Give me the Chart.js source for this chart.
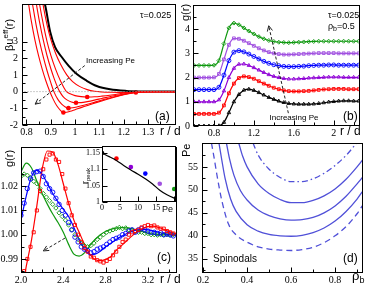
<!DOCTYPE html>
<html><head><meta charset="utf-8">
<script src="https://cdn.jsdelivr.net/npm/chart.js@4.4.1/dist/chart.umd.min.js"></script>
<style>
html,body{margin:0;padding:0;background:#fff;overflow:hidden}
#wrap{position:relative;width:365px;height:285px;background:#fff}
#wrap canvas{position:absolute}
</style></head><body>
<div id="wrap">
<canvas id="ca" width="184" height="142" style="left:0;top:0"></canvas>
<canvas id="cb" width="187" height="142" style="left:178px;top:0"></canvas>
<canvas id="cc" width="184" height="143" style="left:0;top:142px"></canvas>
<canvas id="cd" width="187" height="143" style="left:178px;top:142px"></canvas>
<canvas id="ci" width="110" height="72" style="left:70px;top:142px"></canvas>
</div>
<script>
// ---------------- DATA ----------------
// (a) effective potential beta*u_eff(r), increasing Pe from aPe0 (black) to aPe5
const aPe0R = [0.86,0.877,0.898,0.918,0.946,0.973,1.007,1.048,1.089,1.144,1.212,1.267,1.32,1.42];
const aPe0U = [6.0,5.19,3.58,2.67,2.06,1.56,1.05,0.65,0.34,0.14,0.04,0.01,0,0];
const aPe1R = [0.86,0.868,0.885,0.9,0.92,0.94,0.966,0.99,1.02,1.05,1.08,1.11,1.15,1.2,1.25,1.3,1.35,1.42];
const aPe1U = [6.0,5.25,4.0,3.15,2.3,1.65,1.0,0.6,0.3,0.12,0.02,-0.02,-0.04,-0.05,-0.05,-0.02,0,0];
const aPe2R = [0.846,0.854,0.87,0.885,0.9,0.92,0.94,0.955,0.965,0.98,1.0,1.025,1.05,1.08,1.11,1.15,1.2,1.25,1.3,1.42];
const aPe2U = [6.0,5.25,4.0,3.0,2.2,1.35,0.65,0.22,0.0,-0.13,-0.24,-0.3,-0.32,-0.31,-0.27,-0.2,-0.1,-0.03,0,0];
const aPe3R = [0.832,0.841,0.855,0.87,0.885,0.9,0.915,0.93,0.937,0.95,0.965,0.985,1.004,1.025,1.05,1.08,1.11,1.15,1.2,1.25,1.3,1.42];
const aPe3U = [6.0,5.25,4.1,3.05,2.15,1.4,0.75,0.2,0.0,-0.28,-0.48,-0.62,-0.67,-0.66,-0.6,-0.51,-0.41,-0.28,-0.14,-0.04,0,0];
const aPe4R = [0.815,0.825,0.84,0.855,0.87,0.885,0.9,0.913,0.93,0.945,0.96,0.973,0.99,1.01,1.04,1.07,1.1,1.15,1.2,1.25,1.3,1.42];
const aPe4U = [6.0,5.25,4.0,2.95,2.05,1.25,0.55,0.0,-0.48,-0.75,-0.92,-0.99,-0.97,-0.91,-0.8,-0.68,-0.55,-0.35,-0.17,-0.05,0,0];
const aPe5R = [0.80,0.809,0.82,0.835,0.85,0.865,0.88,0.895,0.91,0.925,0.94,0.952,0.965,0.98,1.0,1.03,1.06,1.1,1.15,1.2,1.25,1.3,1.42];
const aPe5U = [6.0,5.25,4.25,3.1,2.15,1.35,0.65,0.05,-0.45,-0.85,-1.12,-1.25,-1.24,-1.18,-1.08,-0.93,-0.79,-0.6,-0.38,-0.18,-0.05,0,0];
const aMinR = [1.25,1.05,1.004,0.973,0.952];
const aMinU = [-0.05,-0.32,-0.67,-0.99,-1.25];
const aZeroR = [0.78,1.42];
const aZeroU = [0,0];
const aArrowR = [1.04,0.836];
const aArrowU = [1.56,-0.75];

// (b) g(r) at rho_b=0.5, Pe = 0,4,8,12,16,20 (shifted by bOffsets)
const bR = [0.60,0.65,0.70,0.75,0.80,0.85,0.90,0.95,1.00,1.05,1.10,1.15,1.20,1.25,1.30,1.35,1.40,1.45,1.50,1.55,1.60,1.65,1.70,1.75,1.80,1.85,1.90,1.95,2.00,2.05,2.10,2.15,2.20,2.25];
const bG0  = [0,0,0,0,0,0.01,0.15,0.55,1.0,1.3,1.48,1.52,1.47,1.38,1.28,1.18,1.10,1.03,0.97,0.93,0.91,0.90,0.90,0.90,0.91,0.93,0.96,0.99,1.01,1.03,1.04,1.04,1.03,1.03];
const bG4  = [0,0,0,0,0,0.05,0.35,0.85,1.25,1.48,1.55,1.52,1.45,1.35,1.25,1.16,1.08,1.02,0.97,0.94,0.93,0.93,0.94,0.95,0.97,0.99,1.01,1.02,1.03,1.03,1.03,1.02,1.02,1.02];
const bG8  = [0,0,0,0,0,0.08,0.45,1.0,1.38,1.55,1.56,1.5,1.41,1.31,1.21,1.12,1.05,1.0,0.96,0.94,0.94,0.95,0.96,0.98,0.99,1.0,1.01,1.02,1.02,1.02,1.01,1.01,1.01,1.01];
const bG12 = [0,0,0,0,0,0.1,0.6,1.2,1.55,1.61,1.56,1.47,1.37,1.27,1.17,1.09,1.03,0.99,0.96,0.95,0.95,0.96,0.97,0.99,1.0,1.01,1.01,1.02,1.02,1.01,1.01,1.01,1.01,1.01];
const bG16 = [0,0,0,0,0.01,0.15,0.75,1.35,1.62,1.6,1.52,1.42,1.31,1.21,1.12,1.05,1.0,0.97,0.95,0.95,0.96,0.97,0.98,0.99,1.0,1.01,1.01,1.01,1.01,1.0,1.0,1.0,1.0,1.0];
const bG20 = [0,0,0,0,0.01,0.2,0.9,1.55,1.75,1.68,1.55,1.42,1.3,1.19,1.1,1.03,0.99,0.96,0.95,0.94,0.95,0.96,0.97,0.98,0.99,1.0,1.0,1.0,1.0,1.0,1.0,1.0,1.0,1.0];
const bOffsets = [0,0.5,1,1.5,2,2.5];
const bArrowR = [1.546,1.349];
const bArrowG = [0.53,4.14];

// (c) long-range g(r): theory lines and simulation points
const cR = [2.00,2.05,2.10,2.15,2.20,2.25,2.30,2.35,2.40,2.45,2.50,2.55,2.60,2.65,2.70,2.75,2.80,2.85,2.90,2.95,3.00,3.05,3.10,3.15,3.20,3.25,3.30,3.35,3.40,3.45,3.47];
const cRedG   = [0.975,0.987,0.998,1.012,1.027,1.0345,1.034,1.029,1.021,1.013,1.006,1.001,0.996,0.992,0.9898,0.9893,0.9898,0.991,0.9935,0.9955,0.9975,0.9995,1.0012,1.0025,1.0033,1.0035,1.003,1.0022,1.0013,1.0006,1.0005];
const cBlueG  = [1.006,1.016,1.024,1.0265,1.025,1.021,1.017,1.0135,1.0105,1.0075,1.003,0.998,0.994,0.9918,0.992,0.9932,0.995,0.9965,0.998,0.9993,1.0005,1.0015,1.002,1.0022,1.002,1.0015,1.001,1.0005,1.0,0.9998,0.9998];
const cGreenG = [1.026,1.0295,1.0275,1.022,1.017,1.0125,1.0085,1.005,1.001,0.996,0.992,0.9912,0.9925,0.9955,0.998,1.0,1.0013,1.0022,1.0027,1.0029,1.0028,1.0024,1.0018,1.0012,1.0006,1.0002,1.0,0.9999,0.9999,0.9999,0.9999];
const cSimR = [2.00,2.03,2.06,2.09,2.12,2.15,2.18,2.21,2.24,2.27,2.30,2.33,2.36,2.39,2.42,2.45,2.48,2.51,2.54,2.57,2.60,2.63,2.66,2.69,2.72,2.75,2.78,2.81,2.84,2.87,2.90,2.93,2.96,2.99,3.02,3.05,3.08,3.11,3.14,3.17,3.20,3.23,3.26,3.29,3.32,3.35,3.38,3.41,3.44];
const cRedSim   = [0.981,0.985,0.990,0.995,1.001,1.010,1.018,1.027,1.031,1.033,1.0335,1.031,1.030,1.025,1.019,1.013,1.008,1.004,1.000,0.997,0.9945,0.993,0.991,0.9905,0.9895,0.989,0.9885,0.9892,0.990,0.9915,0.993,0.995,0.997,0.998,1.0,1.001,1.0015,1.002,1.003,1.0035,1.004,1.0035,1.0038,1.003,1.0025,1.0025,1.0015,1.001,1.0005];
const cBlueSim  = [1.008,1.013,1.019,1.023,1.0255,1.026,1.0262,1.024,1.021,1.019,1.0175,1.015,1.0125,1.010,1.008,1.005,1.002,0.999,0.997,0.995,0.994,0.9935,0.9925,0.993,0.994,0.9945,0.995,0.996,0.997,0.998,0.9985,0.999,1.0,1.0005,1.0015,1.002,1.001,1.002,1.0025,1.002,1.0015,1.001,1.001,1.0005,1.0008,1.0,1.0003,1.0,0.9995];
const cGreenSim = [1.024,1.025,1.0245,1.0235,1.022,1.021,1.019,1.017,1.0155,1.014,1.0125,1.011,1.009,1.0075,1.006,1.004,1.002,1.0,0.998,0.9965,0.9955,0.995,0.9955,0.9965,0.998,0.999,1.0,1.001,1.0015,1.002,1.0025,1.003,1.0025,1.0028,1.002,1.002,1.0015,1.001,1.001,1.0005,1.0005,1.0,1.0,0.9998,1.0,0.9998,1.0,0.9997,1.0];
const cArrowR = [2.416,2.211];
const cArrowG = [0.9986,0.9933];

// inset: r_peak vs Pe
const inPe = [0,4,8,12,16,20];
const inRpeak = [1.15,1.133,1.107,1.087,1.056,1.04];
const inLinePe = [0,2,4,6,8,10,12,14,16,18,20,20.5];
const inLineR = [1.15,1.139,1.127,1.112,1.098,1.085,1.071,1.055,1.036,1.022,1.012,1.01];

// (d) spinodals Pe(rho_b)
const dDashRho = [0.238,0.25,0.262,0.285,0.315,0.35,0.4,0.45,0.5,0.55,0.6,0.65,0.7,0.75,0.8,0.85,0.9,0.93];
const dDashPe  = [60.2,57,53.5,47.7,42.6,40.2,38.6,37.6,37.1,36.9,36.8,37.0,37.5,38.5,40.0,42.0,44.8,47.0];
const dS1Rho = [0.272,0.285,0.3,0.325,0.35,0.4,0.45,0.5,0.55,0.6,0.65,0.7,0.75,0.8,0.85,0.9,0.93];
const dS1Pe  = [60.2,56.5,52.5,48,45.3,42.4,41.0,40.3,40.0,39.9,40.1,40.7,41.7,43.2,45.3,48.0,50.0];
const dS2Rho = [0.306,0.32,0.34,0.37,0.4,0.45,0.5,0.55,0.6,0.65,0.7,0.75,0.8,0.85,0.9,0.93];
const dS2Pe  = [60.2,56.8,53.2,49.8,47.8,45.6,44.4,43.7,43.4,43.5,44.0,45.0,46.5,48.6,51.3,53.0];
const dS3Rho = [0.362,0.38,0.4,0.45,0.5,0.55,0.6,0.65,0.7,0.75,0.8,0.85,0.9,0.93];
const dS3Pe  = [60.2,57.3,55.0,51.3,49.2,47.9,47.2,47.2,47.7,48.7,50.2,52.3,55.0,56.8];
const dDDRho = [0.427,0.45,0.5,0.55,0.6,0.65,0.7,0.75,0.8,0.85,0.9];
const dDDPe  = [60.2,57.6,54.5,52.7,51.8,51.8,52.4,53.6,55.3,57.5,60.3];

// ---------------- HELPERS ----------------
const SANS = "'Liberation Sans', Arial, Helvetica, sans-serif";
const SERIF = "'Liberation Serif', 'Times New Roman', serif";
const F = s => s + 'px ' + SANS;
const pts = (xs, ys, d) => xs.map((x, i) => ({x: x, y: ys[i] + (d || 0)}));

function axis(min, max, major, fmt, size, pad, fs) {
  return {
    type: 'linear', min: min, max: max,
    grid: {display: false, drawTicks: false},
    border: {display: false},
    afterBuildTicks: s => { s.ticks = major.map(v => ({value: v})); },
    afterFit: s => {
      if (s.isHorizontal()) s.height = size; else s.width = size;
      s.paddingTop = 0; s.paddingBottom = 0; s.paddingLeft = 0; s.paddingRight = 0;
    },
    ticks: {callback: v => fmt(v), padding: pad, font: {family: SERIF, size: fs || 10}, color: '#000',
            autoSkip: false, maxRotation: 0, minRotation: 0}
  };
}
const fmt1 = v => String(Math.round(v * 100) / 100);

const annot = {
  id: 'annot',
  beforeDatasetsDraw(chart, args, o) {
    if (!o.fill) return;
    const a = chart.chartArea, ctx = chart.ctx;
    ctx.save(); ctx.fillStyle = '#fff';
    ctx.fillRect(a.left, a.top, a.right - a.left, a.bottom - a.top); ctx.restore();
  },
  afterDraw(chart, args, o) {
    const ctx = chart.ctx, a = chart.chartArea, xs = chart.scales.x, ys = chart.scales.y;
    const L = Math.round(a.left) + 0.5, T = Math.round(a.top) + 0.5, R = Math.round(a.right) - 0.5, B = Math.round(a.bottom) - 0.5;
    ctx.save();
    ctx.strokeStyle = '#000'; ctx.lineWidth = 1; ctx.setLineDash([]);
    ctx.strokeRect(L, T, R - L, B - T);
    ctx.beginPath();
    const tx = (vals, len) => (vals || []).forEach(v => { const p = Math.round(xs.getPixelForValue(v)) + 0.5; ctx.moveTo(p, B); ctx.lineTo(p, B - len); });
    const ty = (vals, len) => (vals || []).forEach(v => { const p = Math.round(ys.getPixelForValue(v)) + 0.5; ctx.moveTo(L, p); ctx.lineTo(L + len, p); });
    tx(o.xMaj, 5); tx(o.xMin, 3); ty(o.yMaj, 5); ty(o.yMin, 3);
    ctx.stroke();
    (o.arrows || []).forEach(ar => {
      const x0 = xs.getPixelForValue(ar.x[0]), y0 = ys.getPixelForValue(ar.y[0]);
      const x1 = xs.getPixelForValue(ar.x[1]), y1 = ys.getPixelForValue(ar.y[1]);
      ctx.strokeStyle = '#222'; ctx.lineWidth = 1;
      ctx.setLineDash([3, 2]);
      ctx.beginPath(); ctx.moveTo(x0, y0); ctx.lineTo(x1, y1); ctx.stroke();
      ctx.setLineDash([]);
      const ang = Math.atan2(y1 - y0, x1 - x0), h = 6;
      ctx.beginPath();
      ctx.moveTo(x1 - h * Math.cos(ang - 0.45), y1 - h * Math.sin(ang - 0.45));
      ctx.lineTo(x1, y1);
      ctx.lineTo(x1 - h * Math.cos(ang + 0.45), y1 - h * Math.sin(ang + 0.45));
      ctx.stroke();
    });
    const off = o.off || [0, 0];
    (o.texts || []).forEach(it => {
      ctx.save();
      ctx.translate(it.x - off[0], it.y - off[1]);
      if (it.rot) ctx.rotate(-Math.PI / 2);
      ctx.fillStyle = it.c || '#000';
      ctx.textBaseline = 'alphabetic'; ctx.textAlign = 'left';
      const parts = it.p || [[it.t, it.f, 0]];
      let w = 0;
      parts.forEach(p => { ctx.font = p[1]; w += ctx.measureText(p[0]).width; });
      let cx = it.al === 'center' ? -w / 2 : (it.al === 'right' ? -w : 0);
      parts.forEach(p => { ctx.font = p[1]; ctx.fillText(p[0], cx, p[2] || 0); cx += ctx.measureText(p[0]).width; });
      ctx.restore();
    });
    ctx.restore();
  }
};

function makeChart(id, o) {
  return new Chart(document.getElementById(id), {
    type: 'scatter',
    data: {datasets: o.datasets},
    options: {
      responsive: false, animation: false, events: [],
      layout: {padding: {left: 0, top: o.padTop, right: o.padRight, bottom: 0}},
      plugins: {legend: {display: false}, tooltip: {enabled: false}, annot: o.annot},
      scales: {x: o.x, y: o.y},
      elements: {point: {radius: 0}, line: {cubicInterpolationMode: 'monotone'}}
    },
    plugins: [annot]
  });
}
const line = (data, color, w, dash) => ({data: data, showLine: true, borderColor: color, borderWidth: w, borderDash: dash || [], pointRadius: 0, fill: false});

// ---------------- (a) ----------------
const RED = '#ff0000';
makeChart('ca', {
  padTop: 4, padRight: 8,
  x: axis(0.782, 1.415, [0.8, 0.9, 1, 1.1, 1.2, 1.3], fmt1, 17, 1),
  y: axis(-2, 5.25, [-2, -1, 0, 1, 2, 3], fmt1, 22, 4),
  datasets: [
    line(pts(aZeroR, aZeroU), '#999', 1, [1, 2]),
    line(pts(aPe1R, aPe1U), RED, 1.1),
    line(pts(aPe2R, aPe2U), RED, 1.1),
    line(pts(aPe3R, aPe3U), RED, 1.1),
    line(pts(aPe4R, aPe4U), RED, 1.1),
    line(pts(aPe5R, aPe5U), RED, 1.1),
    line(pts(aPe0R, aPe0U), '#000', 2),
    {data: pts(aMinR, aMinU), pointRadius: 2.3, pointBackgroundColor: RED, pointBorderColor: RED, pointBorderWidth: 0}
  ],
  annot: {
    off: [0, 0],
    xMaj: [0.8, 0.9, 1, 1.1, 1.2, 1.3], xMin: [0.85, 0.95, 1.05, 1.15, 1.25, 1.35],
    yMaj: [-2, -1, 0, 1, 2, 3], yMin: [-1.5, -0.5, 0.5, 1.5, 2.5],
    arrows: [{x: aArrowR, y: aArrowU}],
    texts: [
      {p: [['βu', F(11)], ['eff', F(8), -5], ['(r)', F(11)]], x: 13, y: 51, rot: true},
      {t: 'τ=0.025', f: F(9), x: 140, y: 18},
      {t: 'Increasing Pe', f: F(8), x: 86, y: 63},
      {t: '(a)', f: F(12), x: 155, y: 120},
      {t: 'r / d', f: F(12), x: 160, y: 135}
    ]
  }
});

// ---------------- (b) ----------------
const bSeries = [bG0, bG4, bG8, bG12, bG16, bG20];
const bCols = ['#000000', '#ff0000', '#8f00d6', '#0000ff', '#a050e0', '#109910'];
const bMarks = ['triangle', 'rect', 'triangle', 'circle', 'rect', 'rectRot'];
makeChart('cb', {
  padTop: 4, padRight: 2,
  x: axis(0.59, 2.265, [0.8, 1.2, 1.6, 2.0], fmt1, 16, 1),
  y: axis(0, 5.0, [0, 1, 2, 3, 4], fmt1, 15, 3),
  datasets: bSeries.map((g, i) => ({
    data: pts(bR, g, bOffsets[i]), showLine: true, borderColor: bCols[i], borderWidth: 1.2,
    pointRadius: 2, pointStyle: bMarks[i], pointBorderColor: bCols[i], pointBorderWidth: 0.9,
    pointBackgroundColor: 'rgba(0,0,0,0)'
  })),
  annot: {
    off: [178, 0],
    xMaj: [0.8, 1.2, 1.6, 2.0], xMin: [1.0, 1.4, 1.8, 2.2],
    yMaj: [0, 1, 2, 3, 4], yMin: [0.5, 1.5, 2.5, 3.5, 4.5],
    arrows: [{x: bArrowR, y: bArrowG}],
    texts: [
      {t: 'g(r)', f: F(11), x: 189, y: 21, rot: true},
      {t: 'τ=0.025', f: F(9), x: 328, y: 18},
      {p: [['ρ', F(9)], ['b', F(7), 2], ['=0.5', F(9)]], x: 328, y: 29},
      {t: 'Increasing Pe', f: F(8), x: 294, y: 120, al: 'center'},
      {t: '(b)', f: F(12), x: 343, y: 120},
      {t: 'r / d', f: F(12), x: 340, y: 135}
    ]
  }
});

// ---------------- (c) ----------------
const GREEN = '#119911', BLUE = '#0000ff';
const sim = (ys, col, st) => ({data: pts(cSimR, ys), pointRadius: 2.2, pointStyle: st, pointBorderColor: col,
  pointBorderWidth: 0.9, pointBackgroundColor: 'rgba(0,0,0,0)'});
makeChart('cc', {
  padTop: 1, padRight: 7,
  x: axis(2.0, 3.475, [2.0, 2.4, 2.8, 3.2], v => v.toFixed(1), 12, 1),
  y: axis(0.9842, 1.0362, [0.99, 1.0, 1.01, 1.02], v => v.toFixed(2), 21, 3),
  datasets: [
    sim(cRedSim, RED, 'rect'),
    sim(cBlueSim, BLUE, 'circle'),
    sim(cGreenSim, GREEN, 'rectRot'),
    line(pts(cR, cRedG), RED, 1.2),
    line(pts(cR, cBlueG), BLUE, 1.2),
    line(pts(cR, cGreenG), GREEN, 1.2)
  ],
  annot: {
    off: [0, 142],
    xMaj: [2.0, 2.4, 2.8, 3.2], xMin: [2.1, 2.2, 2.3, 2.5, 2.6, 2.7, 2.9, 3.0, 3.1, 3.3, 3.4],
    yMaj: [0.99, 1.0, 1.01, 1.02], yMin: [0.985, 0.995, 1.005, 1.015, 1.025],
    arrows: [{x: cArrowR, y: cArrowG}],
    texts: [
      {t: 'g(r)', f: F(11), x: 13, y: 167, rot: true},
      {t: '(c)', f: F(12), x: 157, y: 261},
      {t: 'r / d', f: F(12), x: 160, y: 283}
    ]
  }
});

// ---------------- inset ----------------
makeChart('ci', {
  padTop: 1, padRight: 3,
  x: axis(0, 20.5, [0, 5, 10, 15], fmt1, 12, 1, 8),
  y: axis(1.0, 1.1715, [1, 1.05, 1.1, 1.15], fmt1, 32, 2, 8),
  datasets: [
    line(pts(inLinePe, inLineR), '#000', 1.2),
    {data: pts(inPe, inRpeak), pointRadius: 2.3, pointBorderWidth: 0,
     pointBackgroundColor: bCols, pointBorderColor: bCols}
  ],
  annot: {
    fill: true, off: [70, 142],
    xMaj: [0, 5, 10, 15, 20], yMaj: [1, 1.05, 1.1, 1.15],
    texts: [
      {t: 'Pe', f: F(9), x: 162, y: 212},
      {p: [['r', F(9)], ['peak', F(6), 2]], x: 88, y: 184, rot: true}
    ]
  }
});

// ---------------- (d) ----------------
const DCOL = '#5050d8';
makeChart('cd', {
  padTop: 1, padRight: 2,
  x: axis(0.195, 0.927, [0.2, 0.4, 0.6, 0.8], fmt1, 12, 1),
  y: axis(31.9, 60.2, [35, 40, 45, 50, 55], fmt1, 24, 4),
  datasets: [
    line(pts(dDashRho, dDashPe), DCOL, 1.3, [6, 4]),
    line(pts(dS1Rho, dS1Pe), DCOL, 1.3),
    line(pts(dS2Rho, dS2Pe), DCOL, 1.3),
    line(pts(dS3Rho, dS3Pe), DCOL, 1.3),
    line(pts(dDDRho, dDDPe), DCOL, 1.3, [6, 3, 1.5, 3])
  ],
  annot: {
    off: [178, 142],
    xMaj: [0.2, 0.4, 0.6, 0.8], xMin: [0.3, 0.5, 0.7, 0.9],
    yMaj: [35, 40, 45, 50, 55], yMin: [32.5, 37.5, 42.5, 47.5, 52.5, 57.5],
    texts: [
      {t: 'Pe', f: F(11), x: 190, y: 157, rot: true},
      {t: 'Spinodals', f: F(10), x: 213, y: 262},
      {t: '(d)', f: F(12), x: 343, y: 262},
      {p: [['ρ', F(13)], ['b', F(9), 3]], x: 352, y: 280}
    ]
  }
});
</script>
</body></html>
